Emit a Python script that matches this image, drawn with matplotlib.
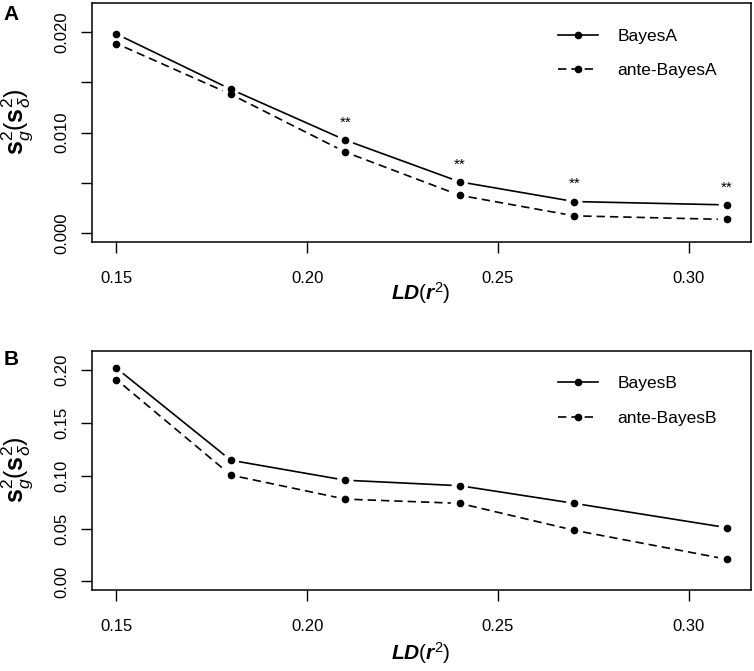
import matplotlib
matplotlib.use("Agg")
import numpy as np
import matplotlib.pyplot as plt
from matplotlib.lines import Line2D

plt.rcParams['font.family'] = ['Liberation Sans', 'DejaVu Sans']
plt.rcParams['mathtext.fontset'] = 'custom'
plt.rcParams['mathtext.rm'] = 'Liberation Sans'
plt.rcParams['mathtext.it'] = 'Liberation Sans:italic'
plt.rcParams['mathtext.bf'] = 'Liberation Sans:bold'
plt.rcParams['mathtext.bfit'] = 'Liberation Sans:italic:bold'

# LD levels (r^2)
ld = [0.15, 0.18, 0.21, 0.24, 0.27, 0.31]

# panel A: BayesA vs ante-BayesA
bayes_a = [0.0198, 0.0143, 0.00925, 0.0051, 0.00314, 0.00281]
ante_bayes_a = [0.01885, 0.0138, 0.00806, 0.00376, 0.00172, 0.00136]
signif_a = ["", "", "**", "**", "**", "**"]

# panel B: BayesB vs ante-BayesB
bayes_b = [0.2019, 0.1147, 0.0958, 0.0906, 0.0739, 0.0509]
ante_bayes_b = [0.1911, 0.1006, 0.0779, 0.0739, 0.0484, 0.0210]

x_ticks = [0.15, 0.20, 0.25, 0.30]
y_ticks_a = [0.000, 0.005, 0.010, 0.015, 0.020]
y_tick_labels_a = ["0.000", "", "0.010", "", "0.020"]
y_ticks_b = [0.00, 0.05, 0.10, 0.15, 0.20]
y_tick_labels_b = ["0.00", "0.05", "0.10", "0.15", "0.20"]

DASH = (0, (5, 3))
LW = 1.2
GAP = 9  # pixels left blank around each point (R type="b")


def draw_b_type(ax, x, y, ls):
    # points joined by line segments that stop short of each point
    ax.plot(x, y, 'o', color='black', markersize=4.5, linestyle='none')
    pts = ax.transData.transform(np.column_stack([x, y]))
    inv = ax.transData.inverted()
    for p1, p2 in zip(pts[:-1], pts[1:]):
        d = p2 - p1
        u = d / np.hypot(*d)
        seg = inv.transform(np.array([p1 + u * GAP, p2 - u * GAP]))
        ax.plot(seg[:, 0], seg[:, 1], color='black', lw=LW, linestyle=ls)


def style_axes(ax, yt, ytl, ylim):
    ax.set_xlim(0.1436, 0.3164)
    ax.set_ylim(*ylim)
    ax.set_xticks(x_ticks)
    ax.set_xticklabels([f"{v:.2f}" for v in x_ticks])
    ax.set_yticks(yt)
    ax.set_yticklabels(ytl, rotation=90, va='center')
    ax.tick_params(length=8, width=1, labelsize=12, direction='out')
    ax.tick_params(axis='x', pad=13)
    ax.tick_params(axis='y', pad=8)
    for s in ax.spines.values():
        s.set_linewidth(1.1)


fig = plt.figure(figsize=(7.54, 6.71), dpi=100)
W, H = 754, 671

axA = fig.add_axes([92 / W, 1 - 242 / H, 659.3 / W, 239 / H])
axB = fig.add_axes([92 / W, 1 - 590.3 / H, 659.3 / W, 239.6 / H])

style_axes(axA, y_ticks_a, y_tick_labels_a, (-0.00088, 0.02288))
style_axes(axB, y_ticks_b, y_tick_labels_b, (-0.0084, 0.2184))

draw_b_type(axA, ld, bayes_a, '-')
draw_b_type(axA, ld, ante_bayes_a, DASH)
for xi, yi, s in zip(ld, bayes_a, signif_a):
    if s:
        axA.annotate(s, (xi, yi), xytext=(0, 12.5), textcoords='offset points',
                     ha='center', va='center', fontsize=11)

draw_b_type(axB, ld, bayes_b, '-')
draw_b_type(axB, ld, ante_bayes_b, DASH)

for ax, names in [(axA, ("BayesA", "ante-BayesA")), (axB, ("BayesB", "ante-BayesB"))]:
    handles = [Line2D([], [], color='black', lw=LW, marker='o', markersize=4.5),
               Line2D([], [], color='black', lw=LW, linestyle=DASH, marker='o', markersize=4.5)]
    ax.legend(handles, names, loc='upper left', bbox_to_anchor=(0.707, 0.893),
              frameon=False, fontsize=12.5, borderpad=0, handlelength=2.3,
              handletextpad=1.1, labelspacing=1.1, borderaxespad=0)

ylab = r"$\mathbf{s}_{g}^{2}(\mathbf{s}_{\delta}^{2})$"
xlab = r"$\mathbfit{LD}(\mathbfit{r}^{2})$"
fig.text(17 / W, 1 - 122 / H, ylab, rotation=90, ha='center', va='center', fontsize=18)
fig.text(17 / W, 1 - 470 / H, ylab, rotation=90, ha='center', va='center', fontsize=18)
fig.text(421 / W, 1 - 293 / H, xlab, ha='center', va='center', fontsize=15)
fig.text(421 / W, 1 - 653 / H, xlab, ha='center', va='center', fontsize=15)

fig.text(11 / W, 1 - 15 / H, "A", fontsize=15, fontweight='bold', ha='center', va='center')
fig.text(11 / W, 1 - 359 / H, "B", fontsize=15, fontweight='bold', ha='center', va='center')

fig.savefig("out.png", dpi=100)
